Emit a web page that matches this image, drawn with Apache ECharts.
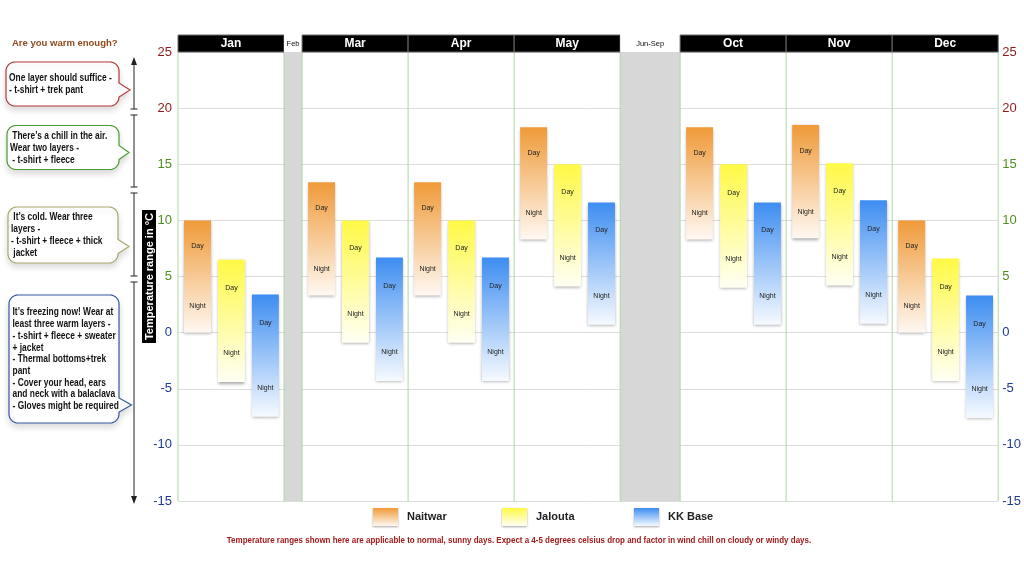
<!DOCTYPE html>
<html><head><meta charset="utf-8">
<script src="https://cdn.jsdelivr.net/npm/echarts@6/dist/echarts.min.js"></script>
<style>html,body{margin:0;padding:0;background:#fff}#c{width:1024px;height:576px}</style>
</head><body><div id="c"></div>
<script>
// ---------- data ----------
const slotNames = ['Jan','Feb','Mar','Apr','May','Jun-Sep','Oct','Nov','Dec'];
const months = ['Jan','Mar','Apr','May','Oct','Nov','Dec'];
const naitwarDay   = [10, 13.4, 13.4, 18.3, 18.3, 18.5, 10];
const naitwarNight = [0, 3.3, 3.3, 8.3, 8.3, 8.4, 0];
const jaloutaDay   = [6.5, 10, 10, 15, 15, 15.1, 6.6];
const jaloutaNight = [-4.4, -0.9, -0.9, 4.1, 4.0, 4.2, -4.3];
const kkDay        = [3.4, 6.7, 6.7, 11.6, 11.6, 11.8, 3.3];
const kkNight      = [-7.5, -4.3, -4.3, 0.7, 0.7, 0.8, -7.6];
const stationNames = ['Naitwar','Jalouta','KK Base'];
const yMin = -15, yMax = 25, yStep = 5;

// ---------- layout ----------
const SLOT_W = slotNames.map(n => n === 'Feb' ? 0.17 : (n === 'Jun-Sep' ? 0.565 : 1));
const slotStart = []; let acc = 0; SLOT_W.forEach(w => { slotStart.push(acc); acc += w; });
const X_MAX = acc;
const BAR_OFF = [0.057, 0.377, 0.697];
const BAR_W = 0.254;
const FONT = 'Liberation Sans';

const palette = [
  {top:'#EF9A38', bot:'#FFF8F2'},
  {top:'#FFF945', bot:'#FFFFF4'},
  {top:'#3D8DF1', bot:'#F6FAFF'}
];
function grad(k){
  return {type:'linear', x:0, y:0, x2:0, y2:1, global:false,
    colorStops:[{offset:0,color:palette[k].top},{offset:1,color:palette[k].bot}]};
}
const dayArrs = [naitwarDay, jaloutaDay, kkDay];
const nightArrs = [naitwarNight, jaloutaNight, kkNight];

function stationSeries(k){
  return {
    type:'custom', name: stationNames[k], z: 4, clip:false,
    itemStyle:{color: grad(k)},
    encode:{x:0, y:[1,2]},
    data: months.map((m,i) => [slotStart[slotNames.indexOf(m)], dayArrs[k][i], nightArrs[k][i]]),
    renderItem: function(params, api){
      const x0 = api.value(0) + BAR_OFF[k];
      const p1 = api.coord([x0, api.value(1)]);
      const p2 = api.coord([x0 + BAR_W, api.value(2)]);
      const w = p2[0]-p1[0], h = p2[1]-p1[1];
      return {type:'group', children:[
        {type:'rect', shape:{x:p1[0], y:p1[1], width:w, height:h},
         style:{fill: grad(k), shadowBlur:3, shadowOffsetY:1.5, shadowColor:'rgba(0,0,0,0.35)'}},
        {type:'text', x:p1[0]+w/2, y:p1[1]+h*0.23,
         style:{text:'Day', fill:'#222', fontSize:7, fontFamily:FONT, align:'center', verticalAlign:'middle'}},
        {type:'text', x:p1[0]+w/2, y:p1[1]+h*0.765,
         style:{text:'Night', fill:'#222', fontSize:7, fontFamily:FONT, align:'center', verticalAlign:'middle'}}
      ]};
    }
  };
}

const frameSeries = {
  type:'custom', name:'frame', z:1, clip:false, silent:true,
  data: slotNames.map((n,i) => [slotStart[i], i]),
  renderItem: function(params, api){
    const i = params.dataIndex;
    const x = api.value(0), w = SLOT_W[i];
    const p1 = api.coord([x, yMax]);
    const p2 = api.coord([x + w, yMin]);
    const ch = [];
    const n = slotNames[i];
    if (n === 'Feb' || n === 'Jun-Sep') {
      ch.push({type:'rect', shape:{x:p1[0], y:p1[1], width:p2[0]-p1[0], height:p2[1]-p1[1]}, style:{fill:'#D7D7D7'}});
    }
    ch.push({type:'line', shape:{x1:p1[0], y1:p1[1], x2:p1[0], y2:p2[1]}, style:{stroke:'#AFD7A5', lineWidth:1}});
    if (i === slotNames.length-1) {
      ch.push({type:'line', shape:{x1:p2[0], y1:p1[1], x2:p2[0], y2:p2[1]}, style:{stroke:'#AFD7A5', lineWidth:1}});
    }
    return {type:'group', children: ch};
  }
};

const headerSeries = {
  type:'custom', name:'header', z:6, clip:false, silent:true,
  data: slotNames.map((n,i) => [slotStart[i], i]),
  renderItem: function(params, api){
    const i = params.dataIndex;
    const n = slotNames[i];
    const x = api.value(0), w = SLOT_W[i];
    const p1 = api.coord([x, yMax]);
    const p2 = api.coord([x + w, yMax]);
    const isMonth = !(n === 'Feb' || n === 'Jun-Sep');
    const cx = (p1[0]+p2[0])/2, H = 17;
    return {type:'group', children:[
      {type:'rect', shape:{x:p1[0], y:p1[1]-H, width:p2[0]-p1[0], height:H},
       style:{fill: isMonth ? '#000' : '#fff', stroke: isMonth ? '#6a6a6a' : null, lineWidth:1}},
      {type:'text', x:cx, y:p1[1]-H/2,
       style:{text:n, fill: isMonth ? '#fff' : '#111', fontSize: isMonth ? 12 : 7.5,
              fontWeight: isMonth ? 'bold' : 'normal', fontFamily:FONT, align:'center', verticalAlign:'middle'}}
    ]};
  }
};

function yLabel(v){
  if (v >= 20) return '{r|' + v + '}';
  if (v >= 5) return '{g|' + v + '}';
  return '{b|' + v + '}';
}
const yRich = {
  r:{color:'#8E1A1A', fontSize:13, fontFamily:FONT},
  g:{color:'#4E8F1E', fontSize:13, fontFamily:FONT},
  b:{color:'#1E3A92', fontSize:13, fontFamily:FONT}
};

// bubble outline as polygon points (rounded corners approximated)
function bubblePoints(x,y,w,h,r,py,tipX,half){
  const pts = [];
  function arc(cx, cy, a0, a1){
    const N = 8;
    for (let j = 0; j <= N; j++){
      const a = a0 + (a1-a0)*j/N;
      pts.push([cx + r*Math.cos(a), cy + r*Math.sin(a)]);
    }
  }
  const R = x+w, B = y+h;
  arc(R-r, y+r, -Math.PI/2, 0);
  pts.push([R, py-half]); pts.push([tipX, py]); pts.push([R, py+half]);
  arc(R-r, B-r, 0, Math.PI/2);
  arc(x+r, B-r, Math.PI/2, Math.PI);
  arc(x+r, y+r, Math.PI, Math.PI*1.5);
  return pts;
}
const bubbles = [
  {x:6, y:62, w:113, h:44, py:90, tip:130, color:'#B23A3A', tx:9, ty:72.5,
   text:'One layer should suffice -\n- t-shirt + trek pant'},
  {x:7, y:125.5, w:112, h:44, py:152.5, tip:129, color:'#4E9A34', tx:10, ty:130.8,
   text:' There\u2019s a chill in the air.\nWear two layers -\n - t-shirt + fleece'},
  {x:8, y:207, w:110, h:56, py:246.5, tip:129, color:'#A9A86A', tx:11, ty:211.8,
   text:' It\u2019s cold. Wear three\nlayers -\n- t-shirt + fleece + thick\n jacket'},
  {x:9, y:295, w:110, h:128, py:405, tip:131.5, color:'#35589E', tx:12.5, ty:306.8,
   text:'It\u2019s freezing now! Wear at\nleast three warm layers -\n- t-shirt + fleece + sweater\n+ jacket\n- Thermal bottoms+trek\npant\n- Cover your head, ears\nand neck with a balaclava\n- Gloves might be required'}
];
const graphics = [];
bubbles.forEach(b => {
  graphics.push({type:'polygon', shape:{points: bubblePoints(b.x,b.y,b.w,b.h,9,b.py,b.tip,7)},
    style:{fill:'#fff', stroke:b.color, lineWidth:1.2, shadowBlur:6, shadowOffsetY:4, shadowColor:'rgba(0,0,0,0.14)'}});
  graphics.push({type:'text', x:b.tx, y:b.ty, scaleX:0.84, style:{text:b.text, fill:'#111', fontSize:10, fontWeight:'bold',
    fontFamily:FONT, lineHeight:11.7, verticalAlign:'top', align:'left'}});
});
// bracket lines
const AX = 134;
[[60,109],[115,187],[193,276],[282,502]].forEach((s, idx) => {
  graphics.push({type:'line', shape:{x1:AX, y1:s[0], x2:AX, y2:s[1]}, style:{stroke:'#222', lineWidth:1}});
  if (idx > 0) graphics.push({type:'line', shape:{x1:AX-3.5, y1:s[0], x2:AX+3.5, y2:s[0]}, style:{stroke:'#222', lineWidth:1}});
  if (idx < 3) graphics.push({type:'line', shape:{x1:AX-3.5, y1:s[1], x2:AX+3.5, y2:s[1]}, style:{stroke:'#222', lineWidth:1}});
});
graphics.push({type:'polygon', shape:{points:[[AX,57],[AX-3,65],[AX+3,65]]}, style:{fill:'#222'}});
graphics.push({type:'polygon', shape:{points:[[AX,504],[AX-3,496],[AX+3,496]]}, style:{fill:'#222'}});
// title
graphics.push({type:'text', x:12, y:43, style:{text:'Are you warm enough?', fill:'#8E4A1E', fontSize:9.5, fontWeight:'bold',
  fontFamily:FONT, verticalAlign:'middle'}});
// footer
graphics.push({type:'text', x:519, y:540, scaleX:0.84, style:{text:'Temperature ranges shown here are applicable to normal, sunny days. Expect a 4-5 degrees celsius drop and factor in wind chill on cloudy or windy days.',
  fill:'#A01A1A', fontSize:9.5, fontFamily:FONT, fontWeight:'bold', align:'center', verticalAlign:'middle'}});

const legendBase = {orient:'horizontal', top:508, padding:0, itemWidth:25, itemHeight:18, icon:'rect',
  itemStyle:{shadowBlur:2, shadowOffsetY:1, shadowColor:'rgba(0,0,0,0.35)'},
  textStyle:{fontSize:11, fontWeight:'bold', color:'#222', fontFamily:FONT, padding:[0,0,0,4]}};
const legendLefts = [373, 502, 634];

const chart = echarts.init(document.getElementById('c'));
chart.setOption({
  backgroundColor:'#fff',
  animation:false,
  grid:{left:178, right:24, top:52, bottom:75},
  legend: stationNames.map((n,i) => Object.assign({}, legendBase, {left: legendLefts[i], data:[n]})),
  xAxis:{type:'value', min:0, max:X_MAX, show:false},
  yAxis:[
    {type:'value', min:yMin, max:yMax, interval:yStep, position:'left',
     axisLine:{show:false}, axisTick:{show:false},
     splitLine:{lineStyle:{color:'#DCDCDC', width:1}},
     axisLabel:{formatter:yLabel, rich:yRich, margin:6},
     name:'Temperature range in \u00B0C', nameLocation:'middle', nameRotate:90, nameGap:22, nameMoveOverlap:false,
     nameTextStyle:{color:'#fff', backgroundColor:'#000', fontSize:11, fontWeight:'bold', fontFamily:FONT, padding:[2,3,1,3]}},
    {type:'value', min:yMin, max:yMax, interval:yStep, position:'right',
     axisLine:{show:false}, axisTick:{show:false}, splitLine:{show:false},
     axisLabel:{formatter:yLabel, rich:yRich, margin:4}}
  ],
  graphic: graphics,
  series:[frameSeries, stationSeries(0), stationSeries(1), stationSeries(2), headerSeries]
});
</script></body></html>
